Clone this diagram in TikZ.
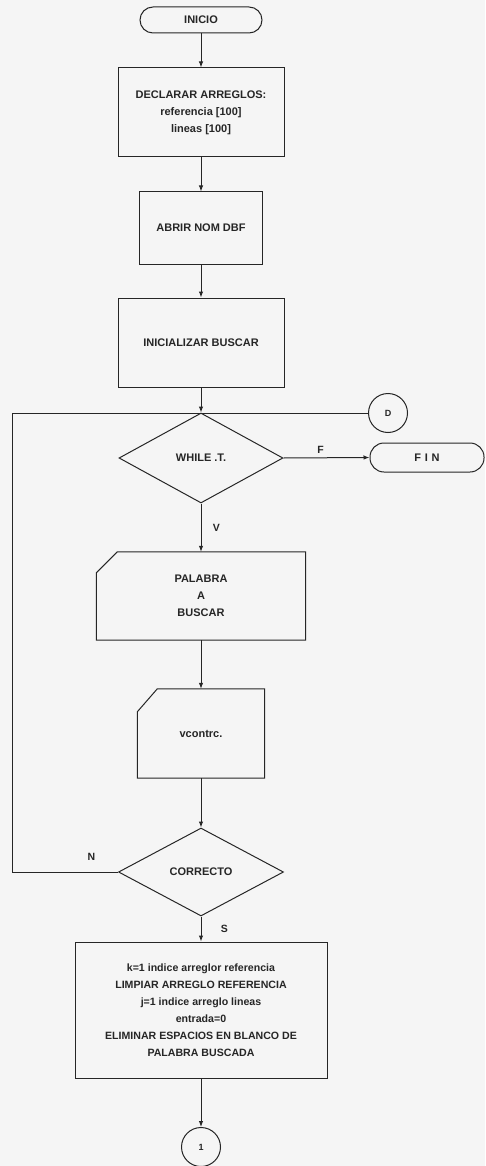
\documentclass[tikz,border=0pt]{standalone}
\usepackage{fontspec}
\setmainfont{Liberation Sans}
\usetikzlibrary{shapes.geometric,arrows.meta,calc}
\begin{document}
\begin{tikzpicture}[x=1pt,y=-1pt,
  every node/.style={font=\fontsize{11}{17}\selectfont\bfseries, text=black!85},
  ln/.style={draw=black!85, line width=1pt},
  arr/.style={ln, -{Latex[length=6pt,width=4.5pt]}},
  term/.style={ln, rectangle, rounded corners=13pt, inner sep=0pt},
  procbox/.style={ln, rectangle, inner sep=0pt, align=center},
  decision/.style={ln, diamond, inner sep=0pt},
  conn/.style={ln, circle, inner sep=0pt, minimum size=39pt, font=\fontsize{9}{10}\selectfont\bfseries},
  ghost/.style={rectangle, inner sep=0pt, align=center},
  lbl/.style={font=\fontsize{10.5}{12}\selectfont\bfseries}
]
\useasboundingbox[fill=black!4] (0,0) rectangle (485,1166);

\node[term, minimum width=122pt, minimum height=26pt] (inicio) at (201,20) {INICIO};
\node[procbox, minimum width=166pt, minimum height=89pt] (decl) at (201,112.5)
  {DECLARAR ARREGLOS:\\ referencia [100]\\ lineas [100]};
\node[procbox, minimum width=123pt, minimum height=72pt] (abrir) at (201,228) {ABRIR NOM DBF};
\node[procbox, minimum width=166pt, minimum height=89pt] (inic) at (201,342.5) {INICIALIZAR BUSCAR};
\node[conn] (D) at (388,413) {D};
\node[decision, minimum width=164pt, minimum height=90pt] (while) at (201,458) {WHILE .T.};
\node[term, rounded corners=14pt, minimum width=114pt, minimum height=29pt,
  font=\fontsize{11}{13}\selectfont\bfseries] (fin) at (427,457.5) {F\,\,I\,\,N};

% manual input: PALABRA A BUSCAR
\node[ghost, minimum width=209pt, minimum height=88pt] (palabra) at (201,596)
  {PALABRA\\ A\\ BUSCAR};
\draw[ln] ($(palabra.north west)+(21,0)$) -- (palabra.north east) -- (palabra.south east)
  -- (palabra.south west) -- ($(palabra.north west)+(0,21)$) -- cycle;

% manual input: vcontrc.
\node[ghost, minimum width=127pt, minimum height=89pt] (vcon) at (201,733.5) {vcontrc.};
\draw[ln] ($(vcon.north west)+(20,0)$) -- (vcon.north east) -- (vcon.south east)
  -- (vcon.south west) -- ($(vcon.north west)+(0,23)$) -- cycle;

\node[decision, minimum width=165pt, minimum height=88pt] (corr) at (201,872) {CORRECTO};

\node[procbox, minimum width=252pt, minimum height=136pt,
  font=\fontsize{10.6}{17}\selectfont\bfseries] (ini2) at (201,1010)
  {k=1 indice arreglor referencia\\ LIMPIAR ARREGLO REFERENCIA\\ j=1 indice arreglo lineas\\ entrada=0\\ ELIMINAR ESPACIOS EN BLANCO DE\\ PALABRA BUSCADA};
\node[conn] (one) at (201,1147) {1};

\coordinate (loopL) at (12,413);

% connectors
\draw[arr] (inicio.south) -- (decl.north);
\draw[arr] (decl.south) -- (abrir.north);
\draw[arr] (abrir.south) -- (inic.north);
\draw[arr] (inic.south) -- (while.north);
\draw[arr] (while.east) -- node[lbl, above, pos=0.43] {F} (fin.west);
\draw[arr] (while.south) -- node[lbl, right, xshift=8pt] {V} (palabra.north);
\draw[arr] (palabra.south) -- (vcon.north);
\draw[arr] (vcon.south) -- (corr.north);
\draw[ln] (corr.west) -- node[lbl, above, yshift=8pt, pos=0.25] {N} (corr.west -| loopL) -- (loopL) -- (D.west);
\draw[arr] (corr.south) -- node[lbl, right, xshift=16pt] {S} (ini2.north);
\draw[arr] (ini2.south) -- (one.north);
\end{tikzpicture}
\end{document}
